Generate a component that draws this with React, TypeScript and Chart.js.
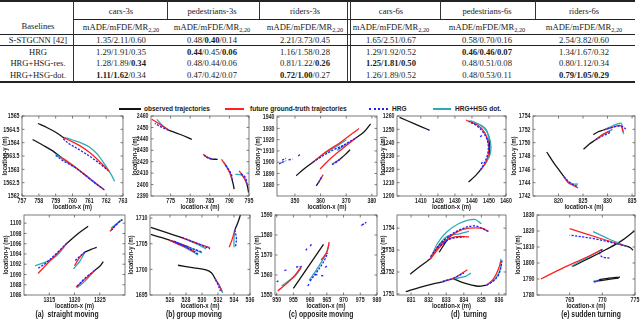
import React, { useEffect, useRef } from "react";
import { Chart, registerables } from "chart.js";

Chart.register(...registerables);

type Pt = [number, number];
type Traj = Pt[];

// ---------------- Table data ----------------
const tableColumns = ["cars-3s", "pedestrians-3s", "riders-3s", "cars-6s", "pedestrians-6s", "riders-6s"];
const baselineNames = ["S-STGCNN [42]", "HRG", "HRG+HSG-res.", "HRG+HSG-dot."];
const sStgcnnScores = ["1.35/2.11/0.60", "0.48/**0.40**/0.14", "2.21/3.73/0.45", "1.65/2.51/0.67", "0.58/0.70/0.16", "2.54/3.82/0.60"];
const hrgScores = ["1.29/1.91/0.35", "**0.44**/0.45/**0.06**", "1.16/1.58/0.28", "1.29/1.92/0.52", "**0.46/0.46/0.07**", "1.34/1.67/0.32"];
const hrgHsgResScores = ["1.28/1.89/**0.34**", "0.48/0.44/0.06", "0.81/1.22/**0.26**", "**1.25/1.81/0.50**", "0.48/0.51/0.08", "0.80/1.12/0.34"];
const hrgHsgDotScores = ["**1.11/1.62**/0.34", "0.47/0.42/0.07", "**0.72/1.00**/0.27", "1.26/1.89/0.52", "0.48/0.53/0.11", "**0.79/1.05/0.29**"];

// ---------------- Legend ----------------
const legendLabels = ["observed trajectories", "future ground-truth trajectories", "HRG", "HRG+HSG dot."];

// ---------------- Plot 1 ----------------
const p1XTicks = [757, 758, 759, 760, 761, 762, 763];
const p1YTicks = [1562, 1562.5, 1563, 1563.5, 1564, 1564.5, 1565];
const p1Observed: Traj[] = [
  [[757.95, 1564.72], [758.5, 1564.56], [759.0, 1564.39], [759.5, 1564.18]],
  [[757.63, 1564.12], [758.2, 1563.92], [758.8, 1563.7], [759.3, 1563.47]],
];
const p1GroundTruth: Traj[] = [
  [[759.5, 1564.18], [760.0, 1564.03], [760.5, 1563.86], [761.0, 1563.64], [761.5, 1563.36], [762.0, 1563.04], [762.2, 1562.92]],
  [[759.3, 1563.47], [760.0, 1563.16], [760.7, 1562.82], [761.3, 1562.52], [761.85, 1562.25]],
];
const p1Hrg: Traj[] = [
  [[759.45, 1564.15], [759.8, 1563.96], [760.5, 1563.7], [761.2, 1563.41], [761.8, 1563.12], [762.1, 1562.96]],
  [[759.0, 1563.52], [759.5, 1563.3], [760.2, 1563.05], [761.0, 1562.66], [761.6, 1562.36], [761.9, 1562.23]],
];
const p1HrgHsg: Traj[] = [
  [[759.5, 1564.2], [760.0, 1564.1], [760.5, 1563.99], [761.0, 1563.84], [761.5, 1563.55], [762.0, 1563.1], [762.3, 1562.8], [762.5, 1562.55]],
  [[759.0, 1563.56], [759.6, 1563.31], [760.3, 1563.0], [761.0, 1562.65], [761.5, 1562.4], [761.8, 1562.28]],
];

// ---------------- Plot 2 ----------------
const p2XTicks = [775, 780, 785, 790, 795];
const p2YTicks = [2390, 2400, 2410, 2420, 2430, 2440, 2450, 2460];
const p2Observed: Traj[] = [
  [[780.4, 2439.6], [777.5, 2443.8], [774.5, 2447.7]],
  [[787.0, 2422.0], [785.5, 2422.3]],
  [[791.2, 2396], [791.0, 2400], [790.7, 2404]],
  [[794.9, 2393], [794.7, 2397], [794.5, 2400]],
];
const p2GroundTruth: Traj[] = [
  [[774.5, 2447.7], [772.5, 2452.2], [770.2, 2457.2]],
  [[785.5, 2422.3], [784.4, 2423.8], [783.3, 2426.5]],
  [[790.7, 2404], [790.0, 2411], [789.0, 2417], [788.0, 2422]],
  [[794.5, 2400], [794.0, 2404], [793.3, 2408], [792.5, 2412]],
];
const p2Hrg: Traj[] = [
  [[774.5, 2447.7], [772.8, 2450], [771.0, 2453.5]],
  [[785.5, 2422.3], [784.5, 2423.3], [783.6, 2425.5]],
  [[790.7, 2404], [790.6, 2408], [789.8, 2413], [789.0, 2417]],
  [[794.5, 2400], [794.3, 2404], [793.8, 2407.5], [793.0, 2409.5]],
];
const p2HrgHsg: Traj[] = [
  [[774.5, 2447.7], [773.0, 2451.5], [771.5, 2457]],
  [[785.5, 2422.3], [784.3, 2424], [783.5, 2426]],
  [[790.7, 2404], [790.2, 2410], [789.3, 2416], [788.5, 2420]],
  [[794.5, 2400], [794.0, 2405], [793.0, 2408.5], [791.5, 2409]],
];

// ---------------- Plot 3 ----------------
const p3XTicks = [350, 360, 370, 380];
const p3YTicks = [1880, 1890, 1900, 1910, 1920, 1930, 1940];
const p3Observed: Traj[] = [
  [[350.5, 1888], [353.5, 1894], [357, 1900]],
  [[379.5, 1934], [377, 1927], [373.5, 1921]],
  [[371.5, 1911], [369.5, 1906.5], [367.5, 1902.5]],
  [[358.3, 1879], [359.2, 1882]],
];
const p3GroundTruth: Traj[] = [
  [[357, 1900], [362, 1909], [368, 1918], [375, 1930]],
  [[373.5, 1921], [368.5, 1912], [364, 1903.5], [359.8, 1894]],
  [[367.5, 1902.5], [366.5, 1901], [365.5, 1899.5]],
  [[359.2, 1882], [360.1, 1885.5], [361, 1889]],
];
const p3Hrg: Traj[] = [
  [[357, 1900], [361.5, 1906.5], [366, 1912], [369, 1915]],
  [[373.5, 1921], [370, 1916.5], [367, 1912]],
  [[367.5, 1902.5], [365.8, 1899.5], [364.2, 1897.5]],
  [[359.2, 1882], [360.3, 1886.5]],
  [[343.8, 1898.5], [345.2, 1900], [346.6, 1901.3]],
  [[345, 1901.8], [346.5, 1903.5]],
  [[347.5, 1902], [349, 1902.8]],
  [[351.3, 1905.5], [352.2, 1907.5]],
];
const p3HrgHsg: Traj[] = [
  [[357, 1900], [361, 1907], [365.5, 1913], [370, 1920]],
  [[373.5, 1921], [369.8, 1915.5], [366.5, 1910.5]],
  [[367.5, 1902.5], [366, 1900.3], [364.4, 1898.3]],
  [[359.2, 1882], [360.3, 1886]],
  [[344.5, 1899.5], [345.5, 1900.3]],
];

// ---------------- Plot 4 ----------------
const p4XTicks = [1410, 1420, 1430, 1440, 1450, 1460];
const p4YTicks = [1200, 1210, 1220, 1230, 1240, 1250, 1260];
const p4Observed: Traj[] = [
  [[1397.5, 1259], [1406, 1254.3], [1414.8, 1249.5]],
  [[1438, 1210.5], [1441.5, 1214.5], [1445, 1219.5]],
  [[1450, 1243], [1450.4, 1236], [1450.2, 1229]],
];
const p4GroundTruth: Traj[] = [
  [[1445, 1219.5], [1448, 1225], [1449.8, 1232], [1449.6, 1240], [1447.5, 1247.5], [1443.5, 1253], [1436.5, 1257]],
];
const p4Hrg: Traj[] = [
  [[1414.2, 1249.8], [1415.2, 1249.2]],
  [[1445, 1219.5], [1447.2, 1224.5], [1449.3, 1232], [1449.4, 1240], [1447, 1247], [1443, 1252.5], [1438, 1256]],
  [[1444.8, 1244.5], [1446.2, 1245.5]],
  [[1445.5, 1224], [1446.5, 1226.5]],
];
const p4HrgHsg: Traj[] = [
  [[1445, 1219.5], [1448.8, 1226], [1451, 1233], [1450.8, 1241], [1448.5, 1249], [1444.5, 1253.5], [1439, 1256.5]],
  [[1450, 1243], [1448.5, 1249.5], [1445, 1253.5]],
];

// ---------------- Plot 5 ----------------
const p5XTicks = [820, 825, 830, 835];
const p5YTicks = [1742, 1744, 1746, 1748, 1750, 1752, 1754];
const p5Observed: Traj[] = [
  [[817.6, 1748.6], [819.0, 1747.0], [820.2, 1745.8], [821.1, 1744.9]],
  [[825.1, 1749.0], [826.3, 1749.8], [827.5, 1750.4]],
  [[827.1, 1751.2], [828.0, 1751.6], [829.2, 1751.9]],
];
const p5GroundTruth: Traj[] = [
  [[821.1, 1744.9], [822.0, 1744.0], [823.0, 1743.6], [824.0, 1743.2]],
  [[827.5, 1750.4], [829.0, 1751.2], [830.5, 1751.7]],
  [[829.2, 1751.9], [831.0, 1752.3], [832.5, 1752.6], [833.0, 1752.2], [833.2, 1751.6]],
];
const p5Hrg: Traj[] = [
  [[821.1, 1744.9], [822.5, 1743.9], [823.8, 1743.5]],
  [[827.5, 1750.4], [829.0, 1751.0], [830.5, 1751.5]],
  [[829.2, 1751.9], [831.0, 1752.3], [832.7, 1752.5], [833.5, 1752.2], [833.8, 1751.8]],
];
const p5HrgHsg: Traj[] = [
  [[821.1, 1744.9], [822.0, 1744.1], [823.0, 1743.8], [824.0, 1743.8]],
  [[827.5, 1750.4], [829.2, 1751.3], [831.0, 1752.0]],
  [[829.2, 1751.9], [831.0, 1752.5], [832.8, 1752.9], [833.0, 1752.0], [833.3, 1751.3]],
];

// ---------------- (a) straight moving ----------------
const paXTicks = [1315, 1320, 1325];
const paYTicks = [1086, 1088, 1090, 1092, 1094, 1096, 1098, 1100];
const paObserved: Traj[] = [
  [[1322.7, 1099.4], [1320.5, 1097.8], [1318.5, 1096.1]],
  [[1324.4, 1095.3], [1323.3, 1094.9], [1322.1, 1094.4]],
  [[1325.7, 1092.5], [1325.0, 1091.6], [1324.0, 1090.8]],
  [[1329.5, 1100.7], [1329.0, 1100.4]],
];
const paGroundTruth: Traj[] = [
  [[1318.5, 1096.1], [1316.5, 1094], [1314.5, 1092], [1312.8, 1090.2]],
  [[1322.1, 1094.4], [1321, 1093.3], [1320, 1091.7]],
  [[1324, 1090.8], [1322, 1089], [1320.3, 1087.5]],
  [[1329, 1100.4], [1328, 1099.5], [1327, 1098.4]],
];
const paHrg: Traj[] = [
  [[1318.5, 1096.1], [1316.3, 1094], [1314.3, 1092.2], [1312.8, 1091.2]],
  [[1322.1, 1094.4], [1321, 1093.5], [1320, 1092.6]],
  [[1324, 1090.8], [1322, 1089.2], [1320.5, 1087.7]],
  [[1329, 1100.4], [1328, 1099.4], [1327.3, 1098.6]],
];
const paHrgHsg: Traj[] = [
  [[1318.5, 1096.1], [1316.5, 1093.7], [1314.5, 1092.5], [1312.2, 1091.7]],
  [[1322.1, 1094.4], [1321, 1092.5], [1319.8, 1091.1]],
  [[1324, 1090.8], [1322.2, 1088.8], [1320.5, 1087.4]],
  [[1329.2, 1100.6], [1328.2, 1099.8], [1327.2, 1099]],
];

// ---------------- (b) group moving ----------------
const pbXTicks = [526, 528, 530, 532, 534, 536];
const pbYTicks = [1695, 1700, 1705, 1710];
const pbObserved: Traj[] = [
  [[523.6, 1708.2], [525.5, 1707.2], [527.5, 1706.2]],
  [[523.6, 1706.8], [525.0, 1706.2], [526.3, 1705.5]],
  [[527, 1700.8], [529, 1700.3], [530.5, 1699.9], [531.2, 1699.3], [531.7, 1698]],
  [[534.8, 1710.6], [534.5, 1709.2], [534.1, 1707.7]],
];
const pbGroundTruth: Traj[] = [
  [[527.5, 1706.2], [529.5, 1705], [531, 1704.2]],
  [[526.3, 1705.5], [527.3, 1704.9], [528.3, 1704.4]],
  [[526, 1705.6], [527.5, 1704.6], [529.2, 1703.4]],
  [[531.7, 1698], [532.1, 1697], [532.5, 1695.7]],
  [[534.1, 1707.7], [533.8, 1706], [533.4, 1704.3]],
];
const pbHrg: Traj[] = [
  [[527.5, 1706.2], [529.5, 1705], [531, 1704]],
  [[526.3, 1705.5], [528.5, 1704.2], [530, 1703.4]],
  [[526.5, 1705.5], [528, 1704.4], [529.5, 1703]],
  [[531.7, 1698], [532, 1697], [532.3, 1695.8]],
  [[534.1, 1707.7], [534.3, 1706], [534.2, 1704.5]],
];
const pbHrgHsg: Traj[] = [
  [[527.5, 1706.2], [529.5, 1704.8], [530.5, 1704]],
  [[526.3, 1705.5], [528, 1704.6], [530, 1703.2]],
  [[526.5, 1705.3], [528, 1704.2], [529.5, 1702.8]],
  [[531.7, 1698], [532.2, 1696.8], [532.6, 1695.4]],
  [[534.1, 1707.7], [534, 1706], [534, 1704.3]],
];

// ---------------- (c) opposite moving ----------------
const pcXTicks = [950, 955, 960, 965, 970, 975, 980];
const pcYTicks = [1550, 1560, 1570, 1580, 1590];
const pcObserved: Traj[] = [
  [[955, 1553.3], [959.5, 1564.3], [964, 1575.3]],
];
const pcGroundTruth: Traj[] = [
  [[950.3, 1552], [952.8, 1555.5], [955.3, 1559.5], [957.5, 1564.5]],
  [[963.3, 1567.5], [965, 1571.5], [965.7, 1576.5]],
];
const pcHrg: Traj[] = [
  [[950, 1556.5], [950.8, 1557.5]],
  [[952.3, 1562.2], [953.3, 1562.8]],
  [[955.8, 1564], [957.2, 1564.2]],
  [[958.7, 1572.3], [959.2, 1573.5]],
  [[960, 1574.5], [960.5, 1575.5]],
  [[959.3, 1554.5], [959.8, 1555.8]],
  [[961.5, 1560], [962.5, 1560.3]],
  [[963.3, 1559.8], [964.2, 1559.3]],
  [[964.5, 1563.8], [965, 1564.5]],
  [[960, 1557], [962, 1561.5], [964, 1566.5], [965.3, 1571]],
  [[975.5, 1585], [976.8, 1586.3]],
];
const pcHrgHsg: Traj[] = [
  [[951.5, 1554.5], [953.5, 1557], [955.8, 1560], [957.3, 1563.5]],
  [[959.7, 1557.3], [961.6, 1561.8], [963.5, 1566.8], [964.9, 1571], [965.6, 1575]],
  [[975.2, 1584.7], [976, 1585.5]],
];

// ---------------- (d) turning ----------------
const pdXTicks = [831, 832, 833, 834, 835, 836];
const pdYTicks = [1751, 1752, 1753, 1754];
const pdObserved: Traj[] = [
  [[830.7, 1751.1], [831.5, 1751.3], [832.2, 1751.45], [832.8, 1751.55]],
  [[833.4, 1751.7], [834, 1751.5], [834.8, 1751.35], [835.3, 1751.4]],
  [[830.95, 1751.9], [831.5, 1752.25], [832.1, 1752.6]],
  [[832.6, 1752.9], [833, 1753.4], [833.3, 1753.7]],
];
const pdGroundTruth: Traj[] = [
  [[832.8, 1751.55], [833.5, 1751.75], [834.2, 1752.1]],
  [[835.3, 1751.4], [835.7, 1751.7], [836, 1752.2], [836.1, 1752.5]],
  [[832.1, 1752.6], [832.6, 1753.1], [833.2, 1753.6], [834, 1753.95], [835, 1754], [835.4, 1753.85]],
  [[832.1, 1752.6], [832.7, 1753.3], [833.5, 1753.6], [834.3, 1753.6]],
];
const pdHrg: Traj[] = [
  [[832.8, 1751.55], [833.5, 1751.75], [834, 1751.95]],
  [[835.3, 1751.4], [835.7, 1751.6], [836, 1751.9], [836.2, 1752.6]],
  [[832.1, 1752.7], [832.8, 1753.4], [833.7, 1753.9], [834.6, 1754.1], [835.4, 1753.85]],
  [[832.5, 1753.1], [833.2, 1753.5], [834, 1753.6]],
];
const pdHrgHsg: Traj[] = [
  [[832.8, 1751.6], [833.5, 1751.7], [834.1, 1751.8], [834.4, 1751.95]],
  [[835.3, 1751.4], [835.8, 1751.7], [836.1, 1752.2], [836.1, 1752.6]],
  [[832.1, 1752.6], [832.5, 1753.3], [833, 1753.8], [833.7, 1754.2], [834.6, 1754.4], [835, 1754.2]],
  [[832.3, 1752.9], [833, 1753.6], [833.8, 1753.75], [834.3, 1753.85]],
];

// ---------------- (e) sudden turning ----------------
const peXTicks = [765, 770, 775];
const peYTicks = [1780, 1790, 1800, 1810, 1820, 1830];
const peObserved: Traj[] = [
  [[765.4, 1797.8], [768, 1803], [770.5, 1808.3], [772.8, 1813.5], [774.9, 1820]],
  [[774.7, 1808], [774.3, 1809.5], [773.7, 1810.5]],
  [[772.7, 1791.2], [771, 1790.5], [769.5, 1789.5]],
  [[772.5, 1790.6], [771, 1789.8], [769.5, 1788.9]],
];
const peGroundTruth: Traj[] = [
  [[770, 1808.5], [767, 1802.5], [764, 1797], [760.6, 1790]],
  [[773.7, 1810.5], [770, 1815], [765, 1821.5]],
  [[769.5, 1789.2], [768.9, 1788.2]],
];
const peHrg: Traj[] = [
  [[770, 1808.5], [769.6, 1806], [770, 1803.8], [771.3, 1803]],
  [[773.7, 1810.5], [769, 1815], [765, 1817.5]],
  [[769.5, 1789], [768.7, 1788]],
];
const peHrgHsg: Traj[] = [
  [[770, 1808.5], [767.5, 1803], [765.3, 1798]],
  [[773.7, 1810.5], [771, 1815], [768.6, 1819.6]],
  [[769.5, 1789.3], [768.6, 1788.5]],
];

// ---------------- styles ----------------
const OBS_COLOR = "#141414";
const GT_COLOR = "#ff2020";
const HRG_COLOR = "#2020ff";
const HSG_COLOR = "#2eaab4";
const SANS = '"Liberation Sans", Arial, sans-serif';
const SERIF = '"Liberation Serif", "Times New Roman", serif';
const PAD_T = 6;
const PAD_R = 10;
const PAD_B = 16;

type PlotSpec = {
  frame: [number, number, number, number];
  titleOffset: number;
  xRange: [number, number];
  yRange: [number, number];
  xTicks: number[];
  yTicks: number[];
  obs: Traj[];
  gt: Traj[];
  hrg: Traj[];
  hsg: Traj[];
};

const plots: PlotSpec[] = [
  { frame: [22, 116, 123, 196], titleOffset: 17, xRange: [757, 763], yRange: [1562, 1565], xTicks: p1XTicks, yTicks: p1YTicks, obs: p1Observed, gt: p1GroundTruth, hrg: p1Hrg, hsg: p1HrgHsg },
  { frame: [151, 116, 249, 196], titleOffset: 16, xRange: [770, 795], yRange: [2390, 2460], xTicks: p2XTicks, yTicks: p2YTicks, obs: p2Observed, gt: p2GroundTruth, hrg: p2Hrg, hsg: p2HrgHsg },
  { frame: [277, 116, 377, 196], titleOffset: 19, xRange: [343, 382], yRange: [1870, 1941], xTicks: p3XTicks, yTicks: p3YTicks, obs: p3Observed, gt: p3GroundTruth, hrg: p3Hrg, hsg: p3HrgHsg },
  { frame: [397, 116, 506, 196], titleOffset: 14, xRange: [1396, 1460], yRange: [1200, 1260], xTicks: p4XTicks, yTicks: p4YTicks, obs: p4Observed, gt: p4GroundTruth, hrg: p4Hrg, hsg: p4HrgHsg },
  { frame: [533, 116, 635, 196], titleOffset: 19, xRange: [814.8, 835.6], yRange: [1742, 1754], xTicks: p5XTicks, yTicks: p5YTicks, obs: p5Observed, gt: p5GroundTruth, hrg: p5Hrg, hsg: p5HrgHsg },
  { frame: [24, 215, 125, 295], titleOffset: 18, xRange: [1310, 1330], yRange: [1086, 1101.6], xTicks: paXTicks, yTicks: paYTicks, obs: paObserved, gt: paGroundTruth, hrg: paHrg, hsg: paHrgHsg },
  { frame: [150, 215, 250, 295], titleOffset: 19, xRange: [523.5, 536], yRange: [1695, 1710.6], xTicks: pbXTicks, yTicks: pbYTicks, obs: pbObserved, gt: pbGroundTruth, hrg: pbHrg, hsg: pbHrgHsg },
  { frame: [275, 215, 377, 295], titleOffset: 18, xRange: [949.5, 980], yRange: [1550, 1590], xTicks: pcXTicks, yTicks: pcYTicks, obs: pcObserved, gt: pcGroundTruth, hrg: pcHrg, hsg: pcHrgHsg },
  { frame: [397, 215, 506, 295], titleOffset: 14, xRange: [830.2, 836.4], yRange: [1750.95, 1754.6], xTicks: pdXTicks, yTicks: pdYTicks, obs: pdObserved, gt: pdGroundTruth, hrg: pdHrg, hsg: pdHrgHsg },
  { frame: [537, 215, 635, 295], titleOffset: 19, xRange: [760, 775], yRange: [1780, 1830], xTicks: peXTicks, yTicks: peYTicks, obs: peObserved, gt: peGroundTruth, hrg: peHrg, hsg: peHrgHsg },
];

const captions = ["(a)  straight moving", "(b) group moving", "(c) opposite moving", "(d)  turning", "(e) sudden turning"];
const captionCenters = [67, 194, 321, 469, 591];

const TICK_FONT = `bold 8px ${SANS}`;
const TICK_SX = 0.66;
const TITLE_FONT = `bold 7.3px ${SANS}`;
const TITLE_SX = 0.82;
const TEXT_COLOR = "#262626";

function drawText(ctx: CanvasRenderingContext2D, text: string, x: number, y: number, align: CanvasTextAlign, sx: number, rot = 0) {
  ctx.save();
  ctx.translate(x, y);
  if (rot) ctx.rotate(rot);
  ctx.scale(sx, 1);
  ctx.textAlign = align;
  ctx.textBaseline = "middle";
  ctx.fillText(text, 0, 0);
  ctx.restore();
}

const framePlugin = {
  id: "matlabFrame",
  afterDraw(chart: any) {
    const { ctx, chartArea: a, scales } = chart;
    const spec: PlotSpec = chart.options.plugins.matlabFrame.spec;
    ctx.save();
    ctx.strokeStyle = "#5a5a5a";
    ctx.lineWidth = 0.8;
    ctx.strokeRect(a.left, a.top, a.right - a.left, a.bottom - a.top);
    const L = 2.5;
    ctx.beginPath();
    scales.x.ticks.forEach((t: any) => {
      const p = scales.x.getPixelForValue(t.value);
      ctx.moveTo(p, a.bottom);
      ctx.lineTo(p, a.bottom - L);
      ctx.moveTo(p, a.top);
      ctx.lineTo(p, a.top + L);
    });
    scales.y.ticks.forEach((t: any) => {
      const p = scales.y.getPixelForValue(t.value);
      ctx.moveTo(a.left, p);
      ctx.lineTo(a.left + L, p);
      ctx.moveTo(a.right, p);
      ctx.lineTo(a.right - L, p);
    });
    ctx.stroke();
    ctx.fillStyle = TEXT_COLOR;
    ctx.font = TICK_FONT;
    scales.x.ticks.forEach((t: any) => {
      drawText(ctx, String(t.value), scales.x.getPixelForValue(t.value), a.bottom + 4.5, "center", TICK_SX);
    });
    scales.y.ticks.forEach((t: any) => {
      drawText(ctx, String(t.value), a.left - 2.5, scales.y.getPixelForValue(t.value), "right", TICK_SX);
    });
    ctx.font = TITLE_FONT;
    drawText(ctx, "location-x (m)", (a.left + a.right) / 2, a.bottom + 11, "center", TITLE_SX);
    drawText(ctx, "location-y (m)", a.left - spec.titleOffset, (a.top + a.bottom) / 2, "center", TITLE_SX, -Math.PI / 2);
    ctx.restore();
  },
};

function TrajPlot({ spec }: { spec: PlotSpec }) {
  const ref = useRef<HTMLCanvasElement>(null);
  const [fl, ft, fr, fb] = spec.frame;
  const padL = spec.titleOffset + 6;
  const W = fr - fl + padL + PAD_R;
  const H = fb - ft + PAD_T + PAD_B;
  useEffect(() => {
    if (!ref.current) return;
    const datasets: any[] = [];
    const add = (trajs: Traj[], color: string, dash: number[], width: number) =>
      trajs.forEach((t) =>
        datasets.push({
          data: t.map(([x, y]) => ({ x, y })),
          showLine: true,
          borderColor: color,
          backgroundColor: color,
          borderWidth: width,
          borderDash: dash,
          pointRadius: 0,
          tension: 0.35,
          fill: false,
        })
      );
    add(spec.hrg, HRG_COLOR, [2.2, 1.4], 1.3);
    add(spec.gt, GT_COLOR, [], 1.3);
    add(spec.hsg, HSG_COLOR, [], 1.3);
    add(spec.obs, OBS_COLOR, [], 1.3);
    const chart = new Chart(ref.current, {
      type: "scatter",
      data: { datasets },
      options: {
        animation: false,
        responsive: false,
        events: [],
        layout: { padding: { top: PAD_T, right: PAD_R, left: 0, bottom: 0 } },
        plugins: { legend: { display: false }, tooltip: { enabled: false }, matlabFrame: { spec } },
        scales: {
          x: {
            type: "linear",
            min: spec.xRange[0],
            max: spec.xRange[1],
            grid: { display: false, drawTicks: false },
            border: { display: false },
            ticks: { display: false },
            afterBuildTicks: (s: any) => {
              s.ticks = spec.xTicks.map((v) => ({ value: v }));
            },
            afterFit: (s: any) => {
              s.height = PAD_B;
            },
          },
          y: {
            type: "linear",
            min: spec.yRange[0],
            max: spec.yRange[1],
            grid: { display: false, drawTicks: false },
            border: { display: false },
            ticks: { display: false },
            afterBuildTicks: (s: any) => {
              s.ticks = spec.yTicks.map((v) => ({ value: v }));
            },
            afterFit: (s: any) => {
              s.width = padL;
            },
          },
        },
      } as any,
      plugins: [framePlugin],
    });
    return () => chart.destroy();
  }, []);
  return (
    <canvas
      ref={ref}
      width={W}
      height={H}
      style={{ position: "absolute", left: fl - padL, top: ft - PAD_T, width: W, height: H }}
    />
  );
}

function Cell({ text }: { text: string }) {
  const parts = text.split("**");
  return <>{parts.map((p, i) => (i % 2 === 1 ? <b key={i}>{p}</b> : <span key={i}>{p}</span>))}</>;
}

function Table() {
  const colCenters = [121, 212, 305, 391, 487, 584];
  const rowCenters = [39.5, 51.5, 63, 74.5];
  const rows = [sStgcnnScores, hrgScores, hrgHsgResScores, hrgHsgDotScores];
  const txt = (x: number, y: number, content: React.ReactNode, key: string) => (
    <div key={key} style={{ position: "absolute", left: x, top: y, transform: "translate(-50%, -50%)", whiteSpace: "nowrap", lineHeight: 1 }}>
      {content}
    </div>
  );
  const hline = (y: number, x0: number, x1: number, t: number, key: string) => (
    <div key={key} style={{ position: "absolute", left: x0, top: y - t / 2, width: x1 - x0, height: t, background: "#222" }} />
  );
  const vline = (x: number, y0: number, y1: number, key: string) => (
    <div key={key} style={{ position: "absolute", left: x - 0.4, top: y0, width: 0.8, height: y1 - y0, background: "#333" }} />
  );
  const els: React.ReactNode[] = [];
  els.push(hline(1.2, 0, 635, 1.5, "h0"));
  els.push(hline(19, 73, 635, 0.8, "h1"));
  els.push(hline(34, 0, 635, 0.8, "h2"));
  els.push(hline(45.5, 0, 635, 1, "h3"));
  els.push(hline(82, 0, 635, 1.5, "h4"));
  els.push(vline(73, 1, 82, "v0"));
  els.push(vline(167, 1, 19, "v1"));
  els.push(vline(259, 1, 19, "v2"));
  els.push(vline(347, 1, 82, "v3"));
  els.push(vline(350, 1, 82, "v4"));
  els.push(vline(440, 1, 19, "v5"));
  els.push(vline(535, 1, 19, "v6"));
  els.push(txt(38, 26, "Baselines", "bl"));
  tableColumns.forEach((c, i) => {
    els.push(txt(colCenters[i], 11, c, "c" + i));
    els.push(
      txt(
        colCenters[i],
        27,
        <span>
          mADE/mFDE/MR<span style={{ fontSize: 6.3, position: "relative", top: 2 }}>2,20</span>
        </span>,
        "m" + i
      )
    );
  });
  baselineNames.forEach((n, r) => {
    els.push(txt(38, rowCenters[r], n, "n" + r));
    rows[r].forEach((v, i) => els.push(txt(colCenters[i], rowCenters[r], <Cell text={v} />, "v" + r + "_" + i)));
  });
  return (
    <div style={{ position: "absolute", left: 0, top: 0, width: 640, height: 88, fontFamily: SERIF, fontSize: 8.6, color: "#1a1a1a" }}>
      {els}
    </div>
  );
}

function Legend() {
  const items = [
    { x0: 119, x1: 141, tx: 144, color: OBS_COLOR, dotted: false },
    { x0: 225, x1: 244, tx: 250, color: GT_COLOR, dotted: false },
    { x0: 369, x1: 388, tx: 392, color: HRG_COLOR, dotted: true },
    { x0: 433, x1: 451, tx: 455, color: HSG_COLOR, dotted: false },
  ];
  return (
    <div style={{ position: "absolute", left: 0, top: 100, width: 640, height: 16, fontFamily: SANS, fontSize: 8, fontWeight: "bold", color: "#222" }}>
      {items.map((it, i) => (
        <React.Fragment key={i}>
          <div
            style={{
              position: "absolute",
              left: it.x0,
              top: 7.5,
              width: it.x1 - it.x0,
              height: 0,
              borderTop: `2px ${it.dotted ? "dotted" : "solid"} ${it.color}`,
            }}
          />
          <div
            style={{
              position: "absolute",
              left: it.tx,
              top: 8.5,
              transform: "translateY(-50%) scaleX(0.815)",
              transformOrigin: "left center",
              whiteSpace: "nowrap",
              lineHeight: 1,
            }}
          >
            {legendLabels[i]}
          </div>
        </React.Fragment>
      ))}
    </div>
  );
}

export default function App() {
  return (
    <div style={{ position: "absolute", left: 0, top: 0, width: 640, height: 319, background: "#fff", overflow: "hidden" }}>
      <Table />
      <Legend />
      {plots.map((p, i) => (
        <TrajPlot key={i} spec={p} />
      ))}
      {captions.map((c, i) => (
        <div
          key={"cap" + i}
          style={{
            position: "absolute",
            left: captionCenters[i],
            top: 314,
            transform: "translate(-50%, -50%) scaleX(0.8)",
            whiteSpace: "pre",
            fontFamily: SANS,
            fontWeight: "bold",
            fontSize: 8.5,
            color: "#222",
            lineHeight: 1,
          }}
        >
          {c}
        </div>
      ))}
    </div>
  );
}
